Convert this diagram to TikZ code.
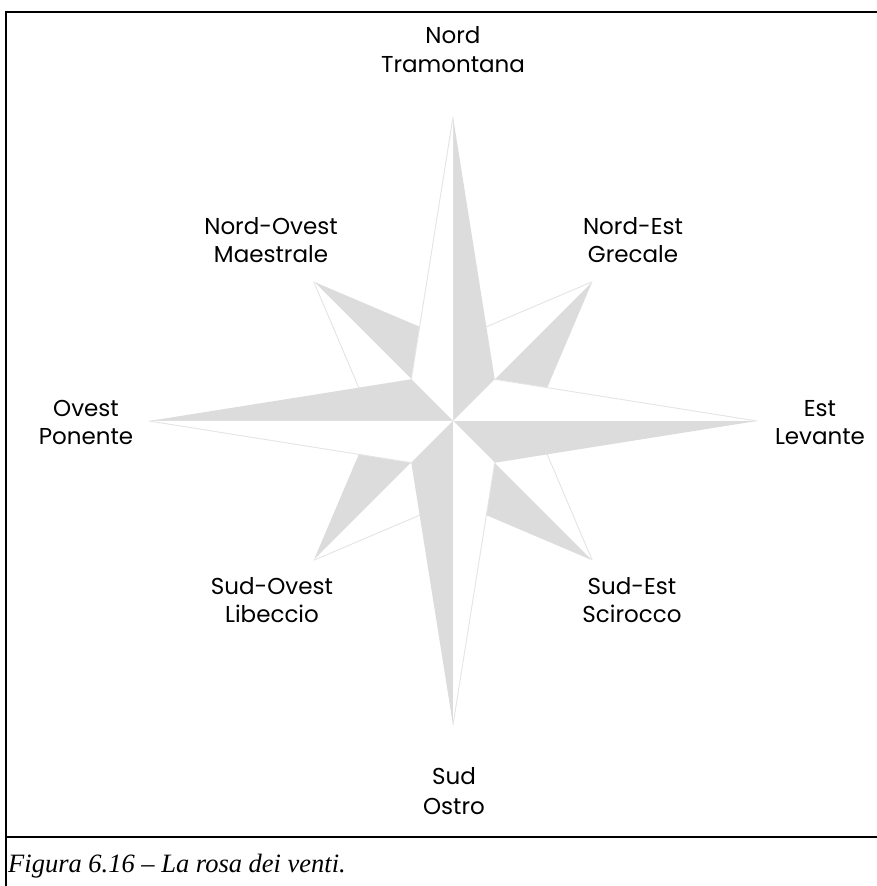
\documentclass[tikz,border=0pt]{standalone}
\usepackage{fontspec}
\setmainfont{Liberation Serif}
\newfontfamily\rosefont{Poppins}
\definecolor{roseGray}{RGB}{220,220,220}
\definecolor{roseLine}{RGB}{228,228,228}
\begin{document}
\begin{tikzpicture}[x=1pt,y=1pt,
  framerule/.style={line width=2.3pt,black},
  darkhalf/.style={fill=roseGray},
  lighthalf/.style={fill=white},
  rim/.style={draw=roseLine,line width=0.9pt},
  lbl/.style={font=\rosefont\fontsize{23}{28}\selectfont,anchor=base,inner sep=0pt},
  captiontext/.style={font=\itshape\fontsize{26.5}{30}\selectfont,anchor=base west,inner sep=0pt}]
\useasboundingbox (0,0) rectangle (877,886);
\clip (0,0) rectangle (877,886);

% frame and caption rule
\coordinate (fbl) at (6,-20);
\coordinate (ftl) at (6,874);
\coordinate (ftr) at (900,874);
\coordinate (cl) at (6,49);
\coordinate (cr) at (900,49);
\draw[framerule] (fbl) -- (ftl) -- (ftr);
\draw[framerule] (cl) -- (cr);

% compass rose
\begin{scope}[shift={(453,465)}]
  % intercardinal points, drawn first
  \foreach \a in {45,135,225,315}{
    \fill[darkhalf] (0,0) -- (\a:197) -- (\a-45:80) -- cycle;
    \fill[lighthalf] (0,0) -- (\a:197) -- (\a+45:80) -- cycle;
    \draw[rim] (\a:197) -- (\a+45:80);
  }
  % cardinal points on top
  \foreach \a in {0,90,180,270}{
    \fill[darkhalf] (0,0) -- (\a:304) -- (\a-45:59) -- cycle;
    \fill[lighthalf] (0,0) -- (\a:304) -- (\a+45:59) -- cycle;
    \draw[rim] (\a:304) -- (\a+45:59);
  }
\end{scope}

% wind names
\node[lbl] (n1) at (453,842) {Nord};
\node[lbl] (n2) at (453,813) {Tramontana};
\node[lbl] (nw1) at (271,651) {Nord-Ovest};
\node[lbl] (nw2) at (271,623) {Maestrale};
\node[lbl] (ne1) at (633,651) {Nord-Est};
\node[lbl] (ne2) at (633,623) {Grecale};
\node[lbl] (w1) at (86,469) {Ovest};
\node[lbl] (w2) at (86,441) {Ponente};
\node[lbl] (e1) at (820,469) {Est};
\node[lbl] (e2) at (820,441) {Levante};
\node[lbl] (sw1) at (272,291) {Sud-Ovest};
\node[lbl] (sw2) at (272,263) {Libeccio};
\node[lbl] (se1) at (632,291) {Sud-Est};
\node[lbl] (se2) at (632,263) {Scirocco};
\node[lbl] (s1) at (454,101) {Sud};
\node[lbl] (s2) at (454,71) {Ostro};

% caption
\node[captiontext] (caption) at (8,13) {Figura 6.16 – La rosa dei venti.};
\end{tikzpicture}
\end{document}
